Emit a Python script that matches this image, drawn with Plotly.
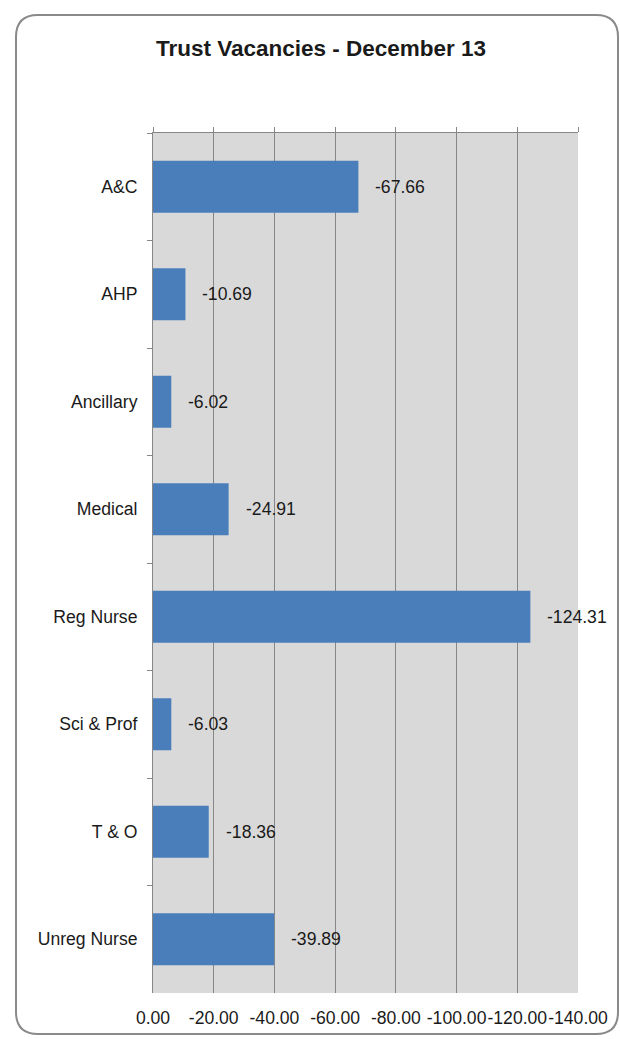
import plotly.graph_objects as go

# Trust vacancies by staff group, December 13
categories = ["A&C", "AHP", "Ancillary", "Medical", "Reg Nurse",
              "Sci & Prof", "T & O", "Unreg Nurse"]
vacancies = [-67.66, -10.69, -6.02, -24.91, -124.31, -6.03, -18.36, -39.89]
tick_values = [0, -20, -40, -60, -80, -100, -120, -140]
tick_labels = ["0.00", "-20.00", "-40.00", "-60.00", "-80.00",
               "-100.00", "-120.00", "-140.00"]

W, H = 620, 1039
ML, MR, MT, MB = 153, 42, 133, 46
FONT = "Liberation Sans, Arial, sans-serif"
TXT = "#1a1a1a"
GRID = "#878787"
FS = 17.6

fig = go.Figure()
fig.add_trace(go.Bar(
    x=vacancies, y=categories, orientation="h",
    marker=dict(color="#4a7ebb", line=dict(width=0)),
    width=0.485, hoverinfo="x+y",
))
# invisible trace so the top axis (line + tick marks) is drawn
fig.add_trace(go.Scatter(
    x=[tick_values[0]], y=[categories[0]], xaxis="x2",
    mode="markers", marker=dict(opacity=0), hoverinfo="skip",
    showlegend=False,
))

# value labels just beyond each bar end
for cat, v in zip(categories, vacancies):
    fig.add_annotation(
        x=v, y=cat, text=f"{v:.2f}", showarrow=False,
        xanchor="left", yanchor="middle", xshift=15,
        font=dict(family=FONT, size=FS, color=TXT),
    )

# chart frame with rounded corners (pixel -> paper conversion)
pw, ph = W - ML - MR, H - MT - MB
def px(x):
    return (x - ML) / pw
def py(y):
    return (H - MB - y) / ph

x0, x1, y0, y1, r = 16, 618, 15, 1034, 22
path = (
    f"M {px(x0 + r)},{py(y0)} L {px(x1 - r)},{py(y0)} "
    f"Q {px(x1)},{py(y0)} {px(x1)},{py(y0 + r)} "
    f"L {px(x1)},{py(y1 - r)} Q {px(x1)},{py(y1)} {px(x1 - r)},{py(y1)} "
    f"L {px(x0 + r)},{py(y1)} Q {px(x0)},{py(y1)} {px(x0)},{py(y1 - r)} "
    f"L {px(x0)},{py(y0 + r)} Q {px(x0)},{py(y0)} {px(x0 + r)},{py(y0)} Z"
)
fig.add_shape(type="path", path=path, xref="paper", yref="paper",
              line=dict(color="#8a8a8a", width=2), layer="above")

fig.update_layout(
    width=W, height=H,
    margin=dict(l=ML, r=MR, t=MT, b=MB, pad=0),
    paper_bgcolor="white", plot_bgcolor="#d9d9d9",
    showlegend=False,
    bargap=0.5,
    title=dict(text="<b>Trust Vacancies - December 13</b>",
               x=321 / W, xref="container", xanchor="center",
               y=1 - 48 / H, yref="container", yanchor="middle",
               font=dict(family=FONT, size=22.5, color=TXT)),
    xaxis=dict(
        range=[0, -140], tickvals=tick_values, ticktext=tick_labels,
        showgrid=True, gridcolor=GRID, gridwidth=1, zeroline=False,
        showline=False, ticks="", ticklabelstandoff=12,
        tickangle=0, automargin=False,
        tickfont=dict(family=FONT, size=FS, color=TXT),
        fixedrange=True,
    ),
    xaxis2=dict(
        overlaying="x", side="top", anchor="y",
        range=[0, -140], tickvals=tick_values, showticklabels=False,
        showgrid=False, zeroline=False, showline=True, linecolor=GRID,
        linewidth=1, ticks="outside", ticklen=5, tickcolor=GRID,
        automargin=False, fixedrange=True,
    ),
    yaxis=dict(
        categoryorder="array", categoryarray=categories,
        autorange="reversed", showgrid=False, zeroline=False,
        showline=True, linecolor=GRID, linewidth=1,
        ticks="outside", ticklen=5, tickcolor=GRID, tickson="boundaries",
        ticklabelstandoff=11, automargin=False,
        tickfont=dict(family=FONT, size=FS, color=TXT),
        fixedrange=True,
    ),
)

fig.write_html("out.html")
